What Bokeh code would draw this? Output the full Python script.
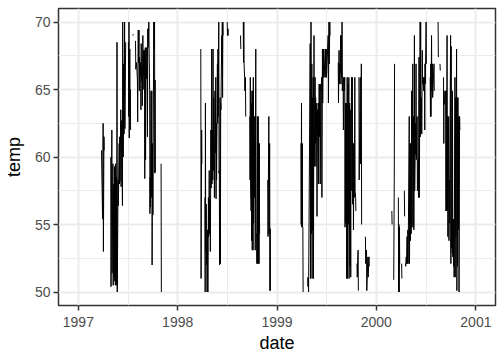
import numpy as np
import pandas as pd
from bokeh.plotting import figure
from bokeh.models import Range1d, FixedTicker, DatetimeTickFormatter, ColumnDataSource
from bokeh.embed import file_html
from bokeh.resources import INLINE

# Daily temperature readings (day of year, temp); None = value outside 50..70 (gap)
years = [1997, 1998, 1999, 2000]

obs_1997 = [
    (85, 60.5), (87, 57.9), (89, 55.4), (91, 62.5), (92, 53.0), (94, 61.5), (95, 60.5), None,
    (119, 60.0), (120, 50.4), (123, 62.0), (124, 51.4), (127, 59.5), (128, 50.5), (130, 58.0), (131, 51.1),
    (133, 59.3), (134, 50.8), (135, 57.5), (136, 50.5), (137, 59.5), (138, 51.5), (140, 58.5), (141, 50.5),
    (142, 68.5), (143, 50.0), (146, 58.3), (147, 56.4), (150, 61.0), (151, 58.0), (152, 61.5), (153, 58.2),
    (156, 63.5), (157, 57.8), (159, 62.7), (160, 61.5), (162, 56.4), (163, 70.0), (165, 60.0), (167, 66.9),
    (168, 61.7), (170, 70.0), (171, 62.1), (173, 66.7), (174, 68.5), None,
    (184, 68.5), (185, 63.0), (186, 70.0), (187, 61.4), (189, 68.0), (190, 63.5), (191, 65.0), (192, 62.0), None,
    (200, 69.0), (202, 69.1), None,
    (210, 68.6), (211, 66.5), (214, 67.0), (217, 65.7), (218, 62.6), (220, 69.4), (221, 67.0), (223, 69.4),
    (224, 64.9), (225, 67.4), (226, 65.9), (229, 67.0), (230, 63.5), (231, 68.4), (232, 65.6), (234, 66.7),
    (235, 63.8), (237, 69.0), (238, 65.0), (240, 67.9), (241, 66.0), (243, 67.9), (244, 58.4), (246, 68.1),
    (247, 59.8), (249, 68.1), (250, 65.8), (252, 66.5), (253, 68.1), (254, 61.5), (255, 69.5), (256, 68.1),
    (258, 69.1), (259, 70.0), (260, 68.0), (262, 64.9), (263, 55.8), (264, 58.5), (265, 56.3), (267, 64.9),
    (268, 57.0), (270, 64.9), (271, 52.0), (273, 61.0), (274, 55.7), (275, 60.5), (277, 70.0), (278, 68.0),
    (280, 70.0), (281, 58.8), (282, 65.7), (283, 58.9), None,
    (304, 59.5), (305, 50.0),
]

obs_1998 = [
    (85, 68.0), (86, 51.0), (88, 62.0), (89, 59.5), None,
    (100, 57.0), (101, 50.0), (102, 64.0), (103, 53.0), (105, 56.5), (106, 52.0), (107, 52.1), (108, 50.0),
    (110, 54.6), (111, 50.0), (113, 57.0), (114, 54.1), (116, 59.0), (117, 54.3), (119, 56.8), (120, 53.0),
    (122, 62.0), (123, 57.7), (125, 68.0), (126, 58.0), (128, 62.0), (129, 58.3), (130, 68.0), (131, 59.0),
    (132, 64.4), (133, 62.0), (134, 60.0), (135, 57.0), (137, 64.9), (138, 60.3), (140, 65.9), (141, 56.9),
    (142, 62.5), (143, 58.3), (146, 66.9), (147, 62.5), (148, 68.0), (149, 63.0), (151, 70.0), (152, 58.8),
    (153, 59.0), (154, 52.0), (156, 64.4), (157, 52.1), (158, 64.0), (159, 63.5), (162, 69.0), (163, 66.9),
    (164, 70.0), (165, 64.4), (166, 70.0), (167, 69.0), None,
    (182, 70.0), (183, 69.0), (185, 69.5), (186, 69.0), None,
    (231, 69.0), (232, 68.0), None,
    (241, 70.0), (242, 67.0), (243, 70.0), (244, 66.9), (246, 65.9), (247, 64.9), (249, 65.9), (250, 63.0), None,
    (265, 63.0), (266, 58.3), (267, 65.9), (268, 57.5), (269, 56.8), (270, 56.0), (271, 64.0), (272, 53.8),
    (273, 64.9), (274, 53.1), (275, 59.5), (276, 64.9), (277, 53.1), (278, 65.9), (279, 55.1), (281, 63.0),
    (282, 57.0), (284, 63.0), (285, 53.1), (287, 68.0), (288, 54.3), (290, 54.3), (291, 52.1), (293, 63.0),
    (294, 52.1), (296, 63.0), (297, 52.1), (298, 61.0), (299, 52.1), (300, 61.0), (301, 54.3), None,
    (331, 58.3), (332, 54.1), (335, 63.0), (336, 54.3), (338, 61.0), (339, 50.1), (340, 54.7), (341, 50.1),
]

obs_1999 = [
    (88, 61.0), (89, 55.0), (90, 64.0), (91, 54.8), (93, 61.0), (94, 54.8), (95, 54.8), (96, 50.0), None,
    (113, 51.1), (114, 50.4), (115, 51.0), (116, 50.0), (122, 68.4), (123, 51.0), (125, 70.0), (126, 54.3),
    (128, 66.9), (129, 51.0), (130, 64.4), (131, 54.6), (133, 65.9), (134, 51.0), (136, 69.0), (137, 59.3),
    (140, 65.9), (141, 61.0), (142, 64.4), (143, 59.3), (146, 64.0), (147, 55.6), (149, 63.5), (150, 61.5),
    (152, 64.0), (153, 58.0), (155, 65.4), (156, 61.5), (158, 65.4), (159, 58.0), (161, 65.4), (162, 64.9),
    (164, 65.9), (165, 57.0), (167, 68.0), (168, 64.0), (170, 68.0), (171, 65.9), (172, 68.0), (173, 65.9),
    (178, 68.0), (179, 65.9), (181, 68.0), (182, 65.9), (188, 69.0), (189, 64.0), (191, 70.0), (192, 66.9),
    (194, 70.0), (195, 69.0), None,
    (225, 67.0), (226, 64.0), (228, 67.9), (229, 65.4), (231, 66.9), (232, 66.2), (234, 69.0), (235, 65.4),
    (237, 69.0), (238, 65.9), (239, 70.0), (240, 64.9), (243, 65.9), (244, 62.0), (246, 65.9), (247, 64.9),
    (249, 65.9), (250, 54.8), (252, 64.0), (253, 55.1), (255, 64.0), (256, 51.0), (258, 65.9), (259, 51.0),
    (261, 65.4), (262, 55.0), (264, 65.9), (265, 51.0), (267, 64.0), (268, 51.9), (269, 63.5), (271, 51.1),
    (272, 60.0), (274, 65.9), (275, 57.5), (277, 65.9), (278, 56.5), (280, 61.0), (281, 54.6), (283, 61.0),
    (284, 57.0), (286, 65.9), (287, 57.5), (289, 57.0), (290, 56.0), None,
    (294, 52.1), (295, 51.1), (298, 53.1), (299, 50.1), None,
    (301, 65.9), (302, 58.3), (306, 65.9), (307, 59.5), (310, 66.9), (311, 55.0), None,
    (325, 54.1), (326, 52.1), (329, 53.1), (330, 50.1), (334, 52.6), (335, 51.1), (338, 52.6), (339, 51.9),
]

obs_2000 = [
    (57, 56.0), (58, 55.0), None,
    (64, 50.9), (66, 58.5), (67, 66.9), None,
    (81, 57.0), (82, 50.0), (83, 55.0), (84, 50.0), (85, 54.8), (86, 52.1), None,
    (93, 52.1), (94, 51.0), None,
    (103, 57.5), (104, 55.6), None,
    (107, 52.1), (108, 51.9), (110, 52.6), (111, 52.1), (113, 54.1), (114, 52.1), (116, 54.6), (117, 52.1),
    (121, 63.0), (122, 52.1), (124, 61.0), (125, 53.8), (127, 61.0), (128, 54.3), (130, 64.9), (131, 54.8),
    (134, 66.9), (135, 54.8), (137, 63.0), (138, 54.6), (140, 69.0), (141, 57.5), (144, 62.5), (145, 60.2),
    (146, 66.9), (147, 59.8), (150, 63.0), (151, 57.5), (154, 59.8), (155, 57.0), (157, 67.4), (158, 57.0),
    (161, 70.0), (162, 61.5), (163, 70.0), (164, 63.0), (166, 64.4), (167, 61.7), (169, 67.9), (170, 65.4),
    (173, 65.9), (174, 64.9), (177, 65.9), (178, 62.0), (179, 66.9), (180, 65.4), (183, 70.0), (184, 66.9), None,
    (198, 65.9), (199, 63.0), (200, 66.9), (201, 63.0), (203, 69.0), (204, 64.9), (206, 66.9), (207, 64.4),
    (212, 66.9), (213, 64.9), None,
    (227, 70.0), (228, 67.4), None,
    (234, 66.9), (235, 66.4), None,
    (247, 65.9), (248, 61.0), (249, 64.9), (250, 63.9), (255, 64.9), (256, 56.0), (257, 64.9), (258, 56.0),
    (260, 69.0), (261, 56.0), (262, 63.0), (263, 54.1), (266, 63.0), (267, 53.8), (268, 58.3), (269, 55.1),
    (273, 69.0), (274, 52.1), (275, 68.2), (276, 53.3), (278, 55.4), (279, 52.9), (280, 64.9), (281, 52.6),
    (283, 55.4), (284, 51.9), (285, 55.4), (286, 51.1), (289, 65.9), (290, 51.1), (291, 64.4), (292, 54.1),
    (295, 68.0), (296, 50.1), (297, 64.4), (298, 51.9), (300, 64.4), (301, 54.6), (303, 63.0), (304, 50.0),
    (306, 63.0), (307, 62.0),
]

data_start = "1997-01-01"
data_end = "2000-12-31"
y_limits = [50, 70]
y_breaks = [50, 55, 60, 65, 70]
y_minor = [52.5, 57.5, 62.5, 67.5]
x_break_years = [1997, 1998, 1999, 2000, 2001]


def ms(ts):
    return pd.Timestamp(ts).value / 1e6


xs, ys = [], []
for yr, obs in zip(years, [obs_1997, obs_1998, obs_1999, obs_2000]):
    base = pd.Timestamp(f"{yr}-01-01")
    for item in obs:
        if item is None:
            xs.append(np.nan)
            ys.append(np.nan)
        else:
            d, t = item
            xs.append(ms(base + pd.Timedelta(days=d)))
            ys.append(t)
    xs.append(np.nan)
    ys.append(np.nan)

source = ColumnDataSource(dict(date=np.array(xs), temp=np.array(ys)))

x0, x1 = ms(data_start), ms(data_end)
xpad = 0.05 * (x1 - x0)
ypad = 0.05 * (y_limits[1] - y_limits[0])

p = figure(width=504, height=360, output_backend="svg", toolbar_location=None,
           x_axis_type="datetime",
           x_range=Range1d(x0 - xpad, x1 + xpad),
           y_range=Range1d(y_limits[0] - ypad, y_limits[1] + ypad),
           min_border_left=55, min_border_right=9, min_border_top=8, min_border_bottom=55)

p.line("date", "temp", source=source, line_color="black", line_width=1)

x_major = [ms(f"{y}-01-01") for y in x_break_years]
x_minor = [(a + b) / 2 for a, b in zip(x_major[:-1], x_major[1:])]
p.xaxis.ticker = FixedTicker(ticks=x_major, minor_ticks=x_minor)
p.xaxis.formatter = DatetimeTickFormatter(years="%Y", months="%Y", days="%Y", hours="%Y",
                                          minutes="%Y", seconds="%Y", milliseconds="%Y",
                                          microseconds="%Y", minsec="%Y", hourmin="%Y")
p.yaxis.ticker = FixedTicker(ticks=y_breaks, minor_ticks=y_minor)

p.xaxis.axis_label = "date"
p.yaxis.axis_label = "temp"

for ax in (p.xaxis, p.yaxis):
    ax.axis_line_color = None
    ax.major_tick_line_color = "#333333"
    ax.major_tick_line_width = 1.5
    ax.major_tick_in = 0
    ax.major_tick_out = 5
    ax.minor_tick_line_color = None
    ax.major_label_text_font = "Liberation Sans"
    ax.major_label_text_font_size = "14px"
    ax.major_label_text_color = "#4D4D4D"
    ax.axis_label_text_font = "Liberation Sans"
    ax.axis_label_text_font_size = "18px"
    ax.axis_label_text_font_style = "normal"
    ax.axis_label_text_color = "black"

p.xaxis.major_label_standoff = 6
p.xaxis.axis_label_standoff = 3
p.yaxis.major_label_standoff = 3
p.yaxis.axis_label_standoff = 8

for g in (p.xgrid, p.ygrid):
    g.grid_line_color = "#EBEBEB"
    g.grid_line_width = 2
    g.minor_grid_line_color = "#EBEBEB"
    g.minor_grid_line_width = 1

p.outline_line_color = "#333333"
p.outline_line_width = 1.5
p.background_fill_color = "white"
p.border_fill_color = "white"

open("out.html", "w").write(file_html(p, INLINE))
